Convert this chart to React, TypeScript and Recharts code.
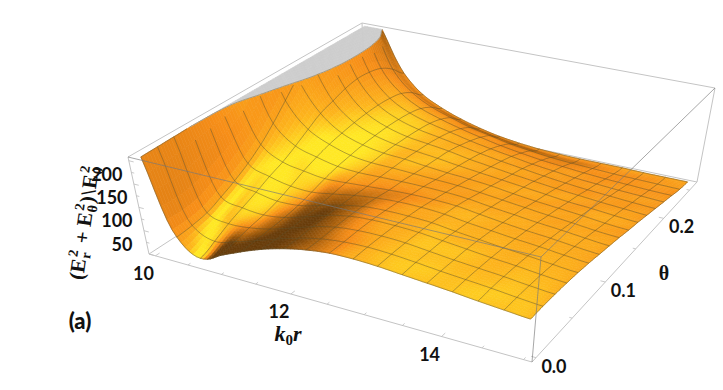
import { Scatter, ScatterChart, XAxis, YAxis } from "recharts";

const kGrid = [10, 10.3125, 10.625, 10.9375, 11.25, 11.5625, 11.875, 12.1875, 12.5, 12.8125, 13.125, 13.4375, 13.75, 14.0625, 14.375, 14.6875, 15];
const thetaGrid = [0, 0.01625, 0.0325, 0.04875, 0.065, 0.08125, 0.0975, 0.11375, 0.13, 0.14625, 0.1625, 0.17875, 0.195, 0.21125, 0.2275, 0.24375, 0.26];

// (E_r^2 + E_theta^2)/E_0^2, one list per k0r, one entry per theta
const fieldByK = [
  [205, 206, 207, 208, 209, 212, 225, 270, 320, 370, 420, 460, 480, 500, 480, 400, 300],
  [45, 48, 54, 67, 82, 100, 122, 150, 182, 215, 245, 270, 285, 295, 290, 255, 200],
  [12, 26, 42, 55, 68, 82, 94, 110, 128, 145, 155, 165, 170, 168, 160, 142, 117],
  [30, 37, 45, 51, 60, 72, 85, 96, 105, 111, 116, 119, 120, 118, 112, 97, 76],
  [50, 51, 54, 57, 62, 70, 79, 86, 91, 95, 97, 98, 97, 94, 87, 73, 54],
  [68, 67, 68, 70, 73, 77, 81, 83, 85, 87, 87, 86, 84, 80, 72, 58, 38],
  [82, 81, 83, 85, 85, 85, 84, 84, 84, 84, 82, 80, 76, 70, 60, 45, 26],
  [92, 92, 94, 95, 94, 91, 87, 85, 82, 79, 77, 74, 68, 60, 50, 36, 17],
  [98, 98, 99, 99, 97, 94, 89, 85, 80, 75, 71, 66, 60, 52, 41, 27, 11],
  [99, 100, 100, 99, 97, 94, 89, 84, 78, 72, 66, 60, 53, 45, 34, 21, 7],
  [97, 98, 98, 97, 95, 91, 87, 81, 74, 68, 61, 54, 47, 38, 28, 16, 5],
  [93, 94, 93, 92, 89, 85, 81, 75, 69, 62, 56, 49, 41, 33, 24, 13, 4],
  [89, 89, 88, 87, 84, 80, 75, 70, 64, 57, 51, 44, 36, 28, 20, 11, 4],
  [85, 85, 84, 82, 79, 75, 70, 65, 59, 53, 46, 40, 32, 25, 17, 9, 4],
  [80, 81, 80, 78, 75, 71, 66, 61, 55, 49, 43, 36, 29, 22, 15, 8, 3],
  [76, 76, 75, 73, 70, 66, 61, 56, 50, 44, 39, 33, 26, 20, 13, 7, 3],
  [72, 72, 71, 69, 66, 62, 57, 52, 47, 41, 36, 30, 24, 18, 12, 6, 3],
];

const kTicks = [10, 10.5, 11, 11.5, 12, 12.5, 13, 13.5, 14, 14.5, 15];
const kLabels = [10, 12, 14];
const thetaTicks = [0, 0.05, 0.1, 0.15, 0.2, 0.25];
const thetaLabels = [0, 0.1, 0.2];
const zTicks = [0, 25, 50, 75, 100, 125, 150, 175, 200];
const zLabels = [50, 100, 150, 200];

const WIDTH = 723;
const HEIGHT = 390;
const Z_MAX = 208;
const K_RANGE = [9.9, 15.1];
const THETA_RANGE = [-0.0052, 0.2652];
const SUB = 6;

type Pt = [number, number];

// box corners on screen: front-left, front-right, back-right, back-left
const floorQuad: Pt[] = [[149, 254], [532, 362], [697, 182], [366, 113]];
const roofQuad: Pt[] = [[128, 157], [541, 257], [715, 88], [362, 23]];

function homography(q: Pt[]) {
  const [[x0, y0], [x1, y1], [x2, y2], [x3, y3]] = q;
  const dx1 = x1 - x2, dx2 = x3 - x2, sx = x0 - x1 + x2 - x3;
  const dy1 = y1 - y2, dy2 = y3 - y2, sy = y0 - y1 + y2 - y3;
  const den = dx1 * dy2 - dx2 * dy1;
  const g = (sx * dy2 - dx2 * sy) / den;
  const h = (dx1 * sy - sx * dy1) / den;
  const a = x1 - x0 + g * x1, b = x3 - x0 + h * x3;
  const d = y1 - y0 + g * y1, e = y3 - y0 + h * y3;
  return (u: number, v: number): Pt => {
    const w = g * u + h * v + 1;
    return [(a * u + b * v + x0) / w, (d * u + e * v + y0) / w];
  };
}
const floorMap = homography(floorQuad);
const roofMap = homography(roofQuad);

function project(k: number, theta: number, z: number): Pt {
  const u = (k - K_RANGE[0]) / (K_RANGE[1] - K_RANGE[0]);
  const v = (theta - THETA_RANGE[0]) / (THETA_RANGE[1] - THETA_RANGE[0]);
  const w = z / Z_MAX;
  const a = floorMap(u, v);
  const b = roofMap(u, v);
  return [a[0] + (b[0] - a[0]) * w, a[1] + (b[1] - a[1]) * w];
}

function cr(p0: number, p1: number, p2: number, p3: number, t: number) {
  return 0.5 * (2 * p1 + (p2 - p0) * t + (2 * p0 - 5 * p1 + 4 * p2 - p3) * t * t + (3 * p1 - p0 - 3 * p2 + p3) * t * t * t);
}

// smooth the mesh values for drawing inside each cell, in log space because of the steep wall
const last = kGrid.length - 1;
const logField = fieldByK.map((col) => col.map((z) => Math.log(z)));
function colAt(i: number, fj: number) {
  const j = Math.min(Math.floor(fj), last - 1);
  const c = logField[i];
  return cr(c[Math.max(j - 1, 0)], c[j], c[j + 1], c[Math.min(j + 2, last)], fj - j);
}
function fieldAt(fi: number, fj: number) {
  const i = Math.min(Math.floor(fi), last - 1);
  return Math.exp(cr(colAt(Math.max(i - 1, 0), fj), colAt(i, fj), colAt(i + 1, fj), colAt(Math.min(i + 2, last), fj), fi - i));
}

const kAt = (fi: number) => kGrid[0] + (fi / last) * (kGrid[last] - kGrid[0]);
const thetaAt = (fj: number) => thetaGrid[0] + (fj / last) * (thetaGrid[last] - thetaGrid[0]);
const N = last * SUB;

const fineZ: number[][] = [];
const fineP: Pt[][] = [];
for (let j = 0; j <= N; j++) {
  fineZ.push([]);
  fineP.push([]);
  for (let i = 0; i <= N; i++) {
    const z = fieldAt(i / SUB, j / SUB);
    fineZ[j].push(z);
    fineP[j].push(project(kAt(i / SUB), thetaAt(j / SUB), Math.min(z, Z_MAX)));
  }
}

const ramp: [number, number[]][] = [
  [0.2, [104, 60, 10]],
  [0.42, [176, 100, 14]],
  [0.62, [247, 142, 24]],
  [0.8, [253, 180, 28]],
  [0.93, [255, 232, 36]],
];
function shadeColor(s: number) {
  if (s <= ramp[0][0]) return `rgb(${ramp[0][1].join(",")})`;
  for (let n = 1; n < ramp.length; n++) {
    if (s <= ramp[n][0]) {
      const t = (s - ramp[n - 1][0]) / (ramp[n][0] - ramp[n - 1][0]);
      const c = ramp[n - 1][1].map((a, idx) => Math.round(a + (ramp[n][1][idx] - a) * t));
      return `rgb(${c.join(",")})`;
    }
  }
  return `rgb(${ramp[ramp.length - 1][1].join(",")})`;
}

const LIGHT = [0.5, -0.3, 0.75];
const BOX_Z = 0.64;
function shadeAt(i: number, j: number) {
  const cap = (z: number) => Math.min(z, Z_MAX + 30);
  const i0 = Math.max(i - 1, 0), i1 = Math.min(i + 1, N);
  const j0 = Math.max(j - 1, 0), j1 = Math.min(j + 1, N);
  const su = (((cap(fineZ[j][i1]) - cap(fineZ[j][i0])) / Z_MAX) * BOX_Z) / ((i1 - i0) / N);
  const sv = (((cap(fineZ[j1][i]) - cap(fineZ[j0][i])) / Z_MAX) * BOX_Z) / ((j1 - j0) / N);
  const len = Math.hypot(su, sv, 1);
  // slopes turned away from the main light fall off faster
  const away = su > 0 ? su * 1.4 : su;
  return (-away * LIGHT[0] - sv * LIGHT[1] + LIGHT[2]) / len;
}

// far cells first so nearer cells paint over them
const cells: { x: number; y: number; i: number; j: number }[] = [];
for (let j = last - 1; j >= 0; j--) {
  for (let i = 0; i < last; i++) {
    const [x, y] = fineP[j * SUB][i * SUB];
    cells.push({ x, y, i, j });
  }
}

// split one small quad along the clip height, returns the colored part, the gray part and the cut
function splitQuad(i: number, j: number) {
  const order: Pt[] = [[i, j], [i + 1, j], [i + 1, j + 1], [i, j + 1]];
  const low: Pt[] = [];
  const high: Pt[] = [];
  const cut: Pt[] = [];
  order.forEach((c, n) => {
    const d = order[(n + 1) % 4];
    const za = fineZ[c[1]][c[0]];
    const zb = fineZ[d[1]][d[0]];
    const p = fineP[c[1]][c[0]];
    (za < Z_MAX ? low : high).push(p);
    if (za < Z_MAX !== zb < Z_MAX) {
      const t = (Z_MAX - za) / (zb - za);
      const fi = (c[0] + (d[0] - c[0]) * t) / SUB;
      const fj = (c[1] + (d[1] - c[1]) * t) / SUB;
      const q = project(kAt(fi), thetaAt(fj), Z_MAX);
      low.push(q);
      high.push(q);
      cut.push(q);
    }
  });
  return { low, high, cut };
}

function CellShape(props: any) {
  const { cx, cy, payload } = props;
  const dx = cx - payload.x;
  const dy = cy - payload.y;
  const str = (pts: Pt[]) => pts.map((p) => `${(p[0] + dx).toFixed(1)},${(p[1] + dy).toFixed(1)}`).join(" ");
  const polys = [];
  for (let b = SUB - 1; b >= 0; b--) {
    for (let a = 0; a < SUB; a++) {
      const i = payload.i * SUB + a;
      const j = payload.j * SUB + b;
      const { low, high, cut } = splitQuad(i, j);
      const fill = shadeColor(shadeAt(i, j));
      if (low.length > 2) polys.push(<polygon key={`l${a}-${b}`} points={str(low)} fill={fill} stroke={fill} strokeWidth={0.6} />);
      if (high.length > 2) polys.push(<polygon key={`h${a}-${b}`} points={str(high)} fill="#cdcdcd" stroke="#cdcdcd" strokeWidth={0.6} />);
      if (cut.length === 2) polys.push(<polyline key={`c${a}-${b}`} points={str(cut)} fill="none" stroke="#8c8468" strokeWidth={0.7} />);
    }
  }
  return <g>{polys}</g>;
}

// mesh lines, split where the surface runs into the gray clip plate
const meshLines: { x: number; y: number; points: Pt[] }[] = [];
function addLine(getZ: (n: number) => number, getP: (n: number) => Pt) {
  let run: Pt[] = [];
  const flush = () => {
    if (run.length > 1) meshLines.push({ x: run[0][0], y: run[0][1], points: run });
    run = [];
  };
  for (let n = 0; n <= N; n++) {
    if (getZ(n) >= Z_MAX) flush();
    else run.push(getP(n));
  }
  flush();
}
for (let m = 0; m <= last; m++) {
  addLine((n) => fineZ[m * SUB][n], (n) => fineP[m * SUB][n]);
  addLine((n) => fineZ[n][m * SUB], (n) => fineP[n][m * SUB]);
}

function MeshShape(props: any) {
  const { cx, cy, payload } = props;
  const dx = cx - payload.x;
  const dy = cy - payload.y;
  return (
    <polyline
      points={payload.points.map((p: Pt) => `${(p[0] + dx).toFixed(1)},${(p[1] + dy).toFixed(1)}`).join(" ")}
      fill="none"
      stroke="rgba(92,78,40,0.6)"
      strokeWidth={0.8}
    />
  );
}

const corner = (kSide: number, thetaSide: number, z: number) => {
  const p = project(K_RANGE[kSide], THETA_RANGE[thetaSide], z);
  return { x: p[0], y: p[1] };
};
const backEdges = [
  [corner(0, 1, Z_MAX), corner(1, 1, Z_MAX)],
  [corner(1, 0, 0), corner(1, 1, 0)],
  [corner(1, 1, 0), corner(1, 1, Z_MAX)],
  [corner(0, 0, 0), corner(0, 1, 0)],
  [corner(0, 1, 0), corner(1, 1, 0)],
  [corner(0, 0, 0), corner(1, 0, 0)],
  [corner(0, 0, 0), corner(0, 0, Z_MAX)],
  [corner(0, 0, Z_MAX), corner(0, 1, Z_MAX)],
  [corner(0, 1, Z_MAX), corner(0, 1, 0)],
];
const frontEdges = [
  [corner(0, 0, Z_MAX), corner(1, 0, Z_MAX)],
  [corner(1, 0, Z_MAX), corner(1, 1, Z_MAX)],
  [corner(1, 0, 0), corner(1, 0, Z_MAX)],
];

type Tick = { x: number; y: number; tx: number; ty: number };
const toTick = (p: Pt, q: Pt, size: number): Tick => {
  const len = Math.hypot(q[0] - p[0], q[1] - p[1]);
  return { x: p[0], y: p[1], tx: ((q[0] - p[0]) / len) * size, ty: ((q[1] - p[1]) / len) * size };
};
const tickMarks: Tick[] = [
  ...kTicks.map((k, n) => toTick(project(k, THETA_RANGE[0], 0), project(k, THETA_RANGE[1], 0), n % 4 === 0 ? 5 : 3)),
  ...thetaTicks.map((t, n) => toTick(project(K_RANGE[1], t, 0), project(K_RANGE[0], t, 0), n % 2 === 0 ? 5 : 3)),
  ...zTicks.map((z, n) => toTick(project(K_RANGE[0], THETA_RANGE[0], z), project(K_RANGE[1], THETA_RANGE[0], z), n % 2 === 0 ? 5 : 3)),
];

function TickShape(props: any) {
  const { cx, cy, payload } = props;
  return <line x1={cx} y1={cy} x2={cx + payload.tx} y2={cy + payload.ty} stroke="#bdbdbd" strokeWidth={0.8} />;
}

const labelAt = (p: Pt, ox: number, oy: number, text: string) => ({ x: p[0] + ox, y: p[1] + oy, text });
const tickLabels = [
  ...kLabels.map((k) => labelAt(project(k, THETA_RANGE[0], 0), -12, 17, String(k))),
  ...thetaLabels.map((t) => labelAt(project(K_RANGE[1], t, 0), 18, 8, t.toFixed(1))),
  ...zLabels.map((z) => labelAt(project(K_RANGE[0], THETA_RANGE[0], z), -22, 13, String(z))),
];

function LabelShape(props: any) {
  const { cx, cy, payload } = props;
  return (
    <text x={cx} y={cy} textAnchor="middle" dominantBaseline="central" fontFamily="Lato" fontWeight={700} fontSize={18} fill="#111">
      {payload.text}
    </text>
  );
}

const annotation = [{ x: 80, y: 320 }];
const blank = () => <g />;

function Titles(props: any) {
  const { cx, cy } = props;
  const ox = cx - annotation[0].x;
  const oy = cy - annotation[0].y;
  const serif = { fontFamily: "Liberation Serif", fontWeight: 700, fill: "#111" };
  return (
    <g>
      <text x={80 + ox} y={320 + oy} textAnchor="middle" dominantBaseline="central" fontFamily="Lato" fontWeight={900} fontSize={22} fill="#111">(a)</text>
      <text x={288 + ox} y={341 + oy} textAnchor="middle" fontSize={22} fontStyle="italic" {...serif}>
        k<tspan dy={4} fontSize={15} fontStyle="normal">0</tspan><tspan dy={-4}>r</tspan>
      </text>
      <text x={664 + ox} y={280 + oy} textAnchor="middle" fontSize={20} {...serif}>θ</text>
      <text transform={`translate(${91 + ox},${224 + oy}) rotate(-82)`} textAnchor="middle" fontSize={21} {...serif}>
        (E<tspan dy={-9} dx={1} fontSize={14}>2</tspan><tspan dy={13} dx={-7} fontSize={14}>r</tspan>
        <tspan dy={-4} dx={3}> + E</tspan><tspan dy={-9} dx={1} fontSize={14}>2</tspan><tspan dy={13} dx={-7} fontSize={14}>θ</tspan>
        <tspan dy={-4} dx={1}>)</tspan><tspan dx={1}>\</tspan><tspan dx={1}>E</tspan><tspan dy={-9} dx={1} fontSize={14}>2</tspan><tspan dy={13} dx={-7} fontSize={14}>0</tspan>
      </text>
    </g>
  );
}

const edgeLine = { stroke: "#c4c4c4", strokeWidth: 1 };

export default function App() {
  return (
    <div style={{ position: "absolute", left: 0, top: 0, background: "#fff" }}>
      <ScatterChart width={WIDTH} height={HEIGHT} margin={{ top: 0, right: 0, bottom: 0, left: 0 }}>
        <XAxis type="number" dataKey="x" domain={[0, WIDTH]} hide />
        <YAxis type="number" dataKey="y" domain={[0, HEIGHT]} reversed hide />
        {backEdges.map((edge, n) => (
          <Scatter key={`b${n}`} data={edge} line={edgeLine} shape={blank} isAnimationActive={false} />
        ))}
        <Scatter data={tickMarks} shape={TickShape} isAnimationActive={false} />
        <Scatter data={cells} shape={CellShape} isAnimationActive={false} />
        <Scatter data={meshLines} shape={MeshShape} isAnimationActive={false} />
        {frontEdges.map((edge, n) => (
          <Scatter key={`f${n}`} data={edge} line={{ stroke: "rgba(120,120,120,0.65)", strokeWidth: 1 }} shape={blank} isAnimationActive={false} />
        ))}
        <Scatter data={tickLabels} shape={LabelShape} isAnimationActive={false} />
        <Scatter data={annotation} shape={Titles} isAnimationActive={false} />
      </ScatterChart>
    </div>
  );
}
